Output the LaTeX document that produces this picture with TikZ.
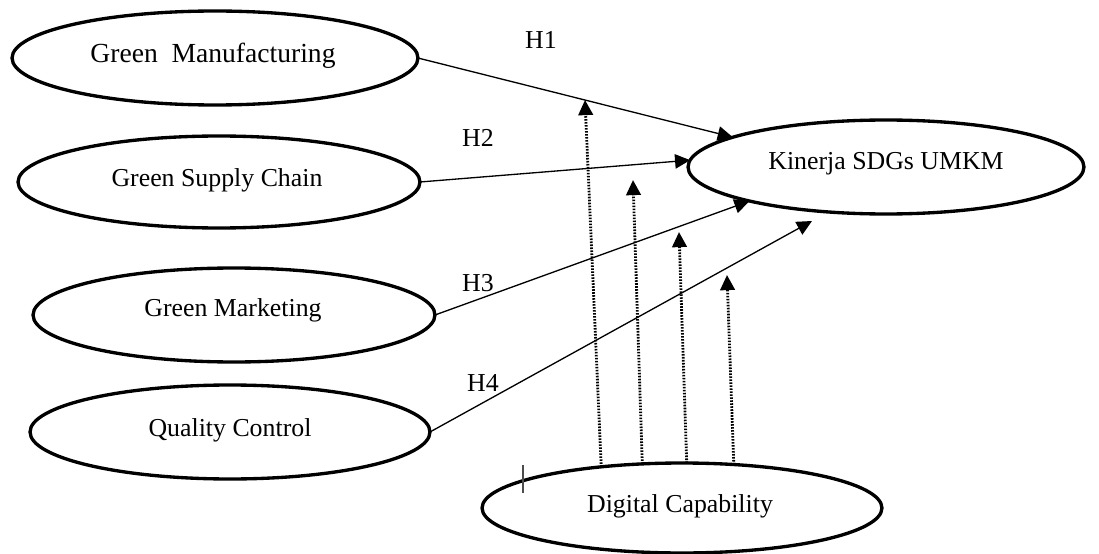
\documentclass[tikz,border=0pt]{standalone}
\usepackage{fontspec}
\setmainfont{Liberation Serif}
\usetikzlibrary{shapes.geometric,arrows.meta}
\begin{document}
\begin{tikzpicture}[x=0.02cm,y=-0.02cm,
  oval/.style={draw,ellipse,line width=1.9pt,inner sep=0pt,outer sep=0pt},
  lbl/.style={inner sep=0pt,font=\fontsize{14.7}{17}\selectfont},
  hyp/.style={line width=0.75pt,-{Triangle[length=8.6pt,width=8.2pt]}},
  mod/.style={line width=1.6pt,dash pattern=on 0.9pt off 0.8pt,-{Triangle[length=8.6pt,width=8.2pt]}}]
\useasboundingbox (0,0) rectangle (1099,554);
% ellipses
\node[oval,minimum width=8.12cm,minimum height=1.88cm] (gm) at (215,58) {};
\node[oval,minimum width=8.04cm,minimum height=1.84cm] (gsc) at (219,182) {};
\node[oval,minimum width=8.04cm,minimum height=1.88cm] (gmk) at (234,315) {};
\node[oval,minimum width=8.00cm,minimum height=1.88cm] (qc) at (230,432) {};
\node[oval,minimum width=7.92cm,minimum height=1.88cm] (k) at (886,167) {};
\node[oval,minimum width=8.00cm,minimum height=1.80cm] (dc) at (682,508) {};
% texts
\node[lbl,font=\fontsize{15.7}{18}\selectfont] (tgm) at (213,56) {Green\ \ Manufacturing};
\node[lbl] (tgsc) at (217,180) {Green Supply Chain};
\node[lbl] (tgmk) at (233,310) {Green Marketing};
\node[lbl] (tqc) at (230,430) {Quality Control};
\node[lbl] (tk) at (886,164) {Kinerja SDGs UMKM};
\node[lbl] (tdc) at (680,506) {Digital Capability};
% hypothesis labels
\node[lbl] (h1) at (541,40) {H1};
\node[lbl] (h2) at (478,138) {H2};
\node[lbl] (h3) at (478,283) {H3};
\node[lbl] (h4) at (483,383) {H4};
% hypothesis arrows
\coordinate (e4) at (812,221);
\draw[hyp] (gm.east) -- (k.169.6);
\draw[hyp] (gsc.east) -- (k.178);
\draw[hyp] (gmk.east) -- (k.194.7);
\draw[hyp] (qc.east) -- (e4);
% moderating arrows
\coordinate (m1) at (585,100);
\coordinate (m2) at (633,180);
\coordinate (m3) at (679,232);
\coordinate (m4) at (727,275);
\draw[mod] (dc.153.2) -- (m1);
\draw[mod] (dc.132.3) -- (m2);
\draw[mod] (dc.84.9) -- (m3);
\draw[mod] (dc.40.8) -- (m4);
% cursor mark
\draw[line width=0.6pt,black!70] (523,465) -- (523,493);
\end{tikzpicture}
\end{document}
